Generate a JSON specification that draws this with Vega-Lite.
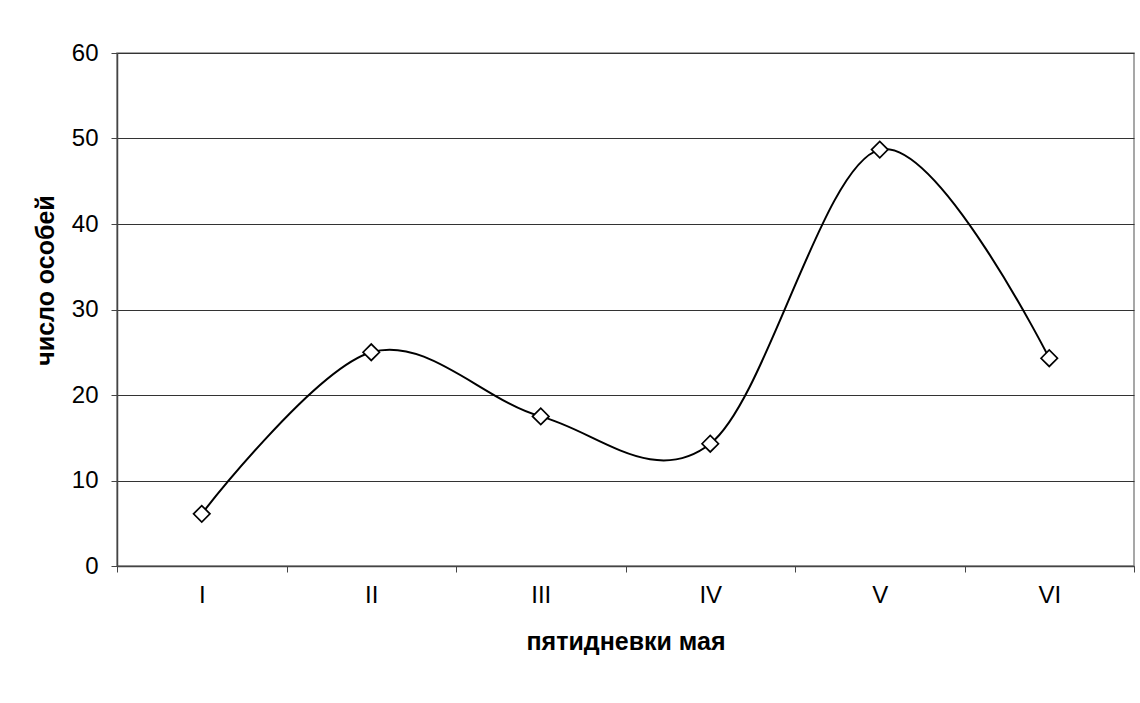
{
  "$schema": "https://vega.github.io/schema/vega-lite/v6.json",
  "autosize": {"type": "none"},
  "width": 1017,
  "height": 513,
  "padding": {"left": 117, "top": 53, "right": 6, "bottom": 137},
  "background": "white",
  "config": {
    "font": "Liberation Sans",
    "view": {"stroke": "#8a8a8a", "strokeWidth": 1.5}
  },
  "data": {
    "values": [
      {"pentad": "I", "count": 6.1},
      {"pentad": "II", "count": 25},
      {"pentad": "III", "count": 17.5},
      {"pentad": "IV", "count": 14.3},
      {"pentad": "V", "count": 48.7},
      {"pentad": "VI", "count": 24.3}
    ]
  },
  "encoding": {
    "x": {
      "field": "pentad",
      "type": "ordinal",
      "sort": null,
      "scale": {"type": "band", "paddingInner": 0, "paddingOuter": 0},
      "axis": {
        "title": "пятидневки мая",
        "titleFont": "Liberation Sans",
        "titleFontSize": 25,
        "titleFontWeight": "bold",
        "titleColor": "#000",
        "titleY": 75,
        "titleBaseline": "middle",
        "labelAngle": 0,
        "labelFontSize": 24,
        "labelColor": "#000",
        "labelPadding": 11,
        "tickBand": "extent",
        "tickSize": 6,
        "tickColor": "#444",
        "domainColor": "#444",
        "domainWidth": 1.5,
        "grid": false
      }
    },
    "y": {
      "field": "count",
      "type": "quantitative",
      "scale": {"domain": [0, 60], "nice": false},
      "axis": {
        "title": "число особей",
        "titleFont": "Liberation Sans",
        "titleFontSize": 25,
        "titleFontWeight": "bold",
        "titleColor": "#000",
        "titleX": -72,
        "titleY": 227,
        "titleAngle": -90,
        "titleBaseline": "middle",
        "titleAlign": "center",
        "values": [0, 10, 20, 30, 40, 50, 60],
        "labelFontSize": 24,
        "labelColor": "#000",
        "labelPadding": 13,
        "tickSize": 6,
        "tickColor": "#444",
        "domainColor": "#444",
        "domainWidth": 1.5,
        "grid": true,
        "gridColor": "#333",
        "gridWidth": 1
      }
    }
  },
  "layer": [
    {
      "mark": {"type": "line", "interpolate": "cardinal", "tension": 0, "color": "#000", "strokeWidth": 2}
    },
    {
      "mark": {"type": "point", "shape": "diamond", "size": 270, "filled": true, "fill": "white", "stroke": "#000", "strokeWidth": 1.7, "opacity": 1}
    }
  ]
}
